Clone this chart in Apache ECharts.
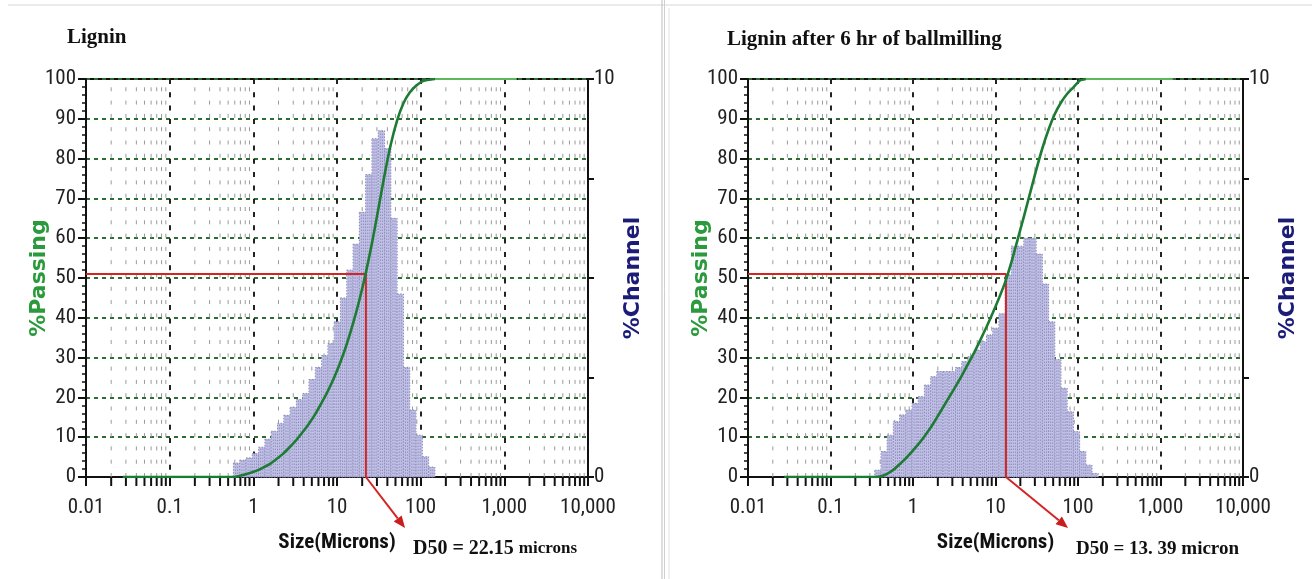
<!DOCTYPE html>
<html>
<head>
<meta charset="utf-8">
<script src="https://cdn.jsdelivr.net/npm/echarts@6/dist/echarts.min.js"></script>
<style>
html,body{margin:0;padding:0;background:#fff;}
#c{width:1312px;height:579px;}
</style>
</head>
<body>
<div id="c"></div>
<script>
// ---------- data ----------
const xTickLabels = ['0.01', '0.1', '1', '10', '100', '1,000', '10,000'];
const minorFactors = [2, 3, 4, 5, 6, 7, 8, 9];
const decades = [0.01, 0.1, 1, 10, 100, 1000];

// Left panel: Lignin
const titleL = 'Lignin';
const binEdgesL = [0.578, 0.688, 0.818, 0.972, 1.156, 1.375, 1.635, 1.945, 2.312, 2.75, 3.27, 3.89, 4.62, 5.50, 6.54, 7.78, 9.25, 11.0, 13.08, 15.56, 18.5, 22.0, 26.16, 31.11, 37.0, 44.0, 52.33, 62.23, 74.0, 88.0, 104.7, 124.5, 148.0];
const channelL = [0.35, 0.42, 0.48, 0.59, 0.75, 0.95, 1.15, 1.35, 1.55, 1.75, 1.95, 2.10, 2.45, 2.75, 3.05, 3.35, 3.90, 4.50, 5.20, 5.85, 6.65, 7.60, 8.50, 8.70, 8.25, 6.50, 4.60, 2.75, 1.68, 1.05, 0.51, 0.25];
const passSizeL = [0.0275, 0.578, 0.688, 0.818, 0.972, 1.156, 1.375, 1.635, 1.945, 2.312, 2.75, 3.27, 3.89, 4.62, 5.5, 6.54, 7.78, 9.25, 11, 13.08, 15.56, 18.5, 22, 26.16, 31.11, 37, 44, 52.33, 62.23, 74, 88, 104.7, 124.5, 148];
const passL = [0, 0, 0.3, 0.7, 1.2, 1.8, 2.6, 3.5, 4.7, 6.0, 7.6, 9.3, 11.3, 13.4, 15.8, 18.6, 21.6, 25.0, 28.9, 33.4, 38.6, 44.4, 51.1, 58.7, 67.2, 75.9, 83.6, 89.6, 93.9, 96.6, 98.3, 99.4, 99.8, 100];
const passTailSizeL = [148, 1408];
const passTailL = [100, 100];
const d50L = 22.15;
const d50TextL = ['D50 = 22.15 ', 'microns'];
const arrowTipL = [65, -12.8];

// Right panel: Lignin after ball milling
const titleR = 'Lignin after 6 hr of ballmilling';
const binEdgesR = [0.344, 0.409, 0.486, 0.578, 0.688, 0.818, 0.972, 1.156, 1.375, 1.635, 1.945, 2.312, 2.75, 3.27, 3.89, 4.62, 5.50, 6.54, 7.78, 9.25, 11.0, 13.08, 15.56, 18.5, 22.0, 26.16, 31.11, 37.0, 44.0, 52.33, 62.23, 74.0, 88.0, 104.7, 124.5, 148.0, 176.0];
const channelR = [0.17, 0.64, 1.05, 1.39, 1.56, 1.68, 1.85, 2.02, 2.31, 2.52, 2.65, 2.65, 2.65, 2.75, 2.90, 3.02, 3.19, 3.40, 3.57, 3.74, 4.10, 5.08, 5.80, 5.80, 6.00, 6.00, 5.60, 4.85, 3.90, 2.95, 2.23, 1.64, 1.14, 0.64, 0.30, 0.09];
const passSizeR = [0.0275, 0.344, 0.409, 0.486, 0.578, 0.688, 0.818, 0.972, 1.156, 1.375, 1.635, 1.945, 2.312, 2.75, 3.27, 3.89, 4.62, 5.5, 6.54, 7.78, 9.25, 11, 13.08, 15.56, 18.5, 22, 26.16, 31.11, 37, 44, 52.33, 62.23, 74, 88, 104.7, 124.5];
const passR = [0, 0, 0.2, 0.8, 1.8, 3.2, 4.7, 6.4, 8.2, 10.2, 12.4, 14.9, 17.5, 20.1, 22.7, 25.4, 28.3, 31.2, 34.4, 37.7, 41.2, 44.9, 48.9, 53.9, 59.6, 65.3, 71.2, 77.1, 82.6, 87.3, 91.2, 94.1, 96.3, 97.9, 99.6, 100];
const passTailSizeR = [124.5, 1408];
const passTailR = [100, 100];
const d50R = 13.39;
const d50TextR = ['D50 = 13. 39 ', 'micron'];
const arrowTipR = [75.7, -12.8];

const d50Level = 51;

// ---------- styling ----------
const NARROW = "'Liberation Sans Narrow', 'Noto Sans ExtraCondensed', 'Noto Sans Condensed', 'Roboto Condensed', 'DejaVu Sans Condensed', sans-serif";
const SERIF = "'Liberation Serif', 'DejaVu Serif', serif";
const WIDE = "'DejaVu Sans', sans-serif";

const minorValues = [];
decades.forEach(d => minorFactors.forEach(f => minorValues.push([d * f, 0])));

const chart = echarts.init(document.getElementById('c'), null, {renderer: 'canvas'});

const grids = [
  {left: 86, right: 1312 - 588, top: 79, bottom: 579 - 477},
  {left: 748, right: 1312 - 1243, top: 79, bottom: 579 - 477}
];

function xAxisFor(gi) {
  return {
    type: 'log', logBase: 10, gridIndex: gi, min: 0.01, max: 10000,
    name: 'Size(Microns)', nameLocation: 'middle', nameGap: 55, nameMoveOverlap: false,
    nameTextStyle: {fontFamily: NARROW, fontWeight: 'bold', fontSize: 21, color: '#111'},
    axisLine: {show: true, lineStyle: {color: '#111', width: 2}},
    axisTick: {show: true, length: 9, lineStyle: {color: '#111', width: 2}},
    minorTick: {show: false},
    axisLabel: {
      margin: 20, fontFamily: NARROW, fontSize: 21, color: '#222',
      formatter: v => xTickLabels[Math.round(Math.log10(v)) + 2]
    },
    splitLine: {show: true, lineStyle: {color: '#222', width: 2, type: [5, 8.3]}}
  };
}
function yLeftFor(gi) {
  return {
    type: 'value', gridIndex: gi, min: 0, max: 100, interval: 10, position: 'left',
    name: '%Passing', nameLocation: 'middle', nameRotate: 90, nameGap: 36, nameMoveOverlap: false,
    nameTextStyle: {fontFamily: WIDE, fontWeight: 'bold', fontSize: 22, color: '#2a9a3c'},
    axisLine: {show: true, lineStyle: {color: '#111', width: 2}},
    axisTick: {show: true, length: 8, lineStyle: {color: '#111', width: 2}},
    minorTick: {show: true, splitNumber: 5, length: 4, lineStyle: {color: '#111', width: 1.5}},
    axisLabel: {margin: 10, fontFamily: NARROW, fontSize: 21, color: '#222'},
    splitLine: {show: true, lineStyle: {color: '#2e6b35', width: 2, type: [4, 4]}}
  };
}
function yRightFor(gi) {
  return {
    type: 'value', gridIndex: gi, min: 0, max: 10, interval: 2.5, position: 'right',
    name: '%Channel', nameLocation: 'middle', nameRotate: 90, nameGap: 34, nameMoveOverlap: false,
    nameTextStyle: {fontFamily: WIDE, fontWeight: 'bold', fontSize: 22, color: '#1b1b78'},
    axisLine: {show: true, lineStyle: {color: '#111', width: 2}},
    axisTick: {show: true, length: 6, lineStyle: {color: '#111', width: 2}},
    axisLabel: {margin: 6, fontFamily: NARROW, fontSize: 21, color: '#222',
      formatter: v => (v === 0 || v === 10) ? String(v) : ''},
    splitLine: {show: false}
  };
}

function minorSeries(gi) {
  return {
    type: 'custom', xAxisIndex: gi, yAxisIndex: gi * 2, z: 1, silent: true, clip: false,
    encode: {x: 0, y: 1},
    data: minorValues,
    renderItem: (params, api) => {
      const v = api.value(0);
      const bot = api.coord([v, 0]);
      const top = api.coord([v, 100]);
      return {type: 'group', children: [
        {type: 'line', shape: {x1: bot[0], y1: bot[1], x2: top[0], y2: top[1]},
          style: {stroke: '#9a9a9a', lineWidth: 1, lineDash: [4, 9.3]}},
        {type: 'line', shape: {x1: bot[0], y1: bot[1], x2: bot[0], y2: bot[1] + 9},
          style: {stroke: '#111', lineWidth: 2}}
      ]};
    }
  };
}
function histSeries(gi, edges, vals) {
  return {
    type: 'custom', xAxisIndex: gi, yAxisIndex: gi * 2 + 1, z: 3, silent: true,
    encode: {x: [0, 1], y: 2},
    data: vals.map((v, i) => [edges[i], edges[i + 1], v]),
    renderItem: (params, api) => {
      const p0 = api.coord([api.value(0), 0]);
      const p1 = api.coord([api.value(1), api.value(2)]);
      const w = p1[0] - p0[0];
      const h = p0[1] - p1[1];
      const kids = [
        {type: 'rect', shape: {x: p0[0], y: p1[1], width: w, height: h},
          style: {fill: '#c0c0e6', stroke: '#8a8ab8', lineWidth: 1, lineDash: [1.5, 1.5]}}
      ];
      [1 / 3, 2 / 3].forEach(f => {
        kids.push({type: 'line', shape: {x1: p0[0] + w * f, y1: p0[1], x2: p0[0] + w * f, y2: p1[1]},
          style: {stroke: '#9090c0', lineWidth: 1, lineDash: [1.5, 1.5]}});
      });
      return {type: 'group', children: kids};
    }
  };
}
function lineSeries(gi, xs, ys, color, width, z) {
  return {
    type: 'line', xAxisIndex: gi, yAxisIndex: gi * 2, z: z, silent: true,
    symbol: 'none', smooth: 0.2,
    data: xs.map((x, i) => [x, ys[i]]),
    lineStyle: {color: color, width: width}
  };
}
function redSeries(gi, d50) {
  return {
    type: 'line', xAxisIndex: gi, yAxisIndex: gi * 2, z: 4, silent: true, symbol: 'none',
    data: [[0.01, d50Level], [d50, d50Level], [d50, 0]],
    lineStyle: {color: '#d42424', width: 2}
  };
}

const titleStyle = {fontFamily: SERIF, fontWeight: 'bold', fontSize: 21, color: '#111'};

chart.setOption({
  animation: false,
  backgroundColor: '#fff',
  title: [
    {text: titleL, left: 67, top: 27, padding: 0, textStyle: titleStyle},
    {text: titleR, left: 727, top: 29, padding: 0, textStyle: titleStyle}
  ],
  grid: grids.map(g => Object.assign({show: true, borderColor: '#111', borderWidth: 2, backgroundColor: '#fff'}, g)),
  xAxis: [xAxisFor(0), xAxisFor(1)],
  yAxis: [yLeftFor(0), yRightFor(0), yLeftFor(1), yRightFor(1)],
  series: [
    minorSeries(0),
    histSeries(0, binEdgesL, channelL),
    redSeries(0, d50L),
    lineSeries(0, passSizeL, passL, '#1e7b34', 2.6, 5),
    lineSeries(0, passTailSizeL, passTailL, '#5cb85c', 2, 5),
    minorSeries(1),
    histSeries(1, binEdgesR, channelR),
    redSeries(1, d50R),
    lineSeries(1, passSizeR, passR, '#1e7b34', 2.6, 5),
    lineSeries(1, passTailSizeR, passTailR, '#5cb85c', 2, 5)
  ]
});

function arrow(gi, d50, tip) {
  const p0 = chart.convertToPixel({gridIndex: gi}, [d50, 0]);
  const p1 = chart.convertToPixel({gridIndex: gi}, tip);
  const dx = p1[0] - p0[0], dy = p1[1] - p0[1];
  const L = Math.sqrt(dx * dx + dy * dy);
  const ux = dx / L, uy = dy / L, nx = -uy, ny = ux;
  const hl = 12, hw = 5;
  const bx = p1[0] - ux * hl, by = p1[1] - uy * hl;
  return [
    {type: 'line', shape: {x1: p0[0], y1: p0[1], x2: bx, y2: by}, style: {stroke: '#d42424', lineWidth: 2}, z: 10},
    {type: 'polygon', shape: {points: [[p1[0], p1[1]], [bx + nx * hw, by + ny * hw], [bx - nx * hw, by - ny * hw]]},
      style: {fill: '#c81e1e'}, z: 10}
  ];
}
function d50Label(gi, parts, sizeA, sizeB) {
  const tipPx = chart.convertToPixel({gridIndex: gi}, gi === 0 ? arrowTipL : arrowTipR);
  return {
    type: 'text', z: 10, x: tipPx[0] + 8, y: tipPx[1] + 21,
    style: {
      text: '{a|' + parts[0] + '}{b|' + parts[1] + '}',
      verticalAlign: 'middle',
      rich: {
        a: {fontFamily: SERIF, fontWeight: 'bold', fontSize: sizeA, fill: '#111'},
        b: {fontFamily: SERIF, fontWeight: 'bold', fontSize: sizeB, fill: '#111'}
      }
    }
  };
}

const graphics = [
  {type: 'line', shape: {x1: 8, y1: 5, x2: 1312, y2: 5}, style: {stroke: '#e4e4e4', lineWidth: 1.5}, z: 0},
  {type: 'line', shape: {x1: 662, y1: 0, x2: 662, y2: 579}, style: {stroke: '#bdbdbd', lineWidth: 1}, z: 0},
  {type: 'line', shape: {x1: 664.5, y1: 0, x2: 664.5, y2: 579}, style: {stroke: '#cfcfcf', lineWidth: 1}, z: 0},
  {type: 'line', shape: {x1: 669, y1: 8, x2: 669, y2: 579}, style: {stroke: '#e2e2e2', lineWidth: 1}, z: 0}
]
  .concat(arrow(0, d50L, arrowTipL))
  .concat(arrow(1, d50R, arrowTipR))
  .concat([d50Label(0, d50TextL, 20, 17), d50Label(1, d50TextR, 19, 19)]);

chart.setOption({graphic: graphics});
</script>
</body>
</html>
